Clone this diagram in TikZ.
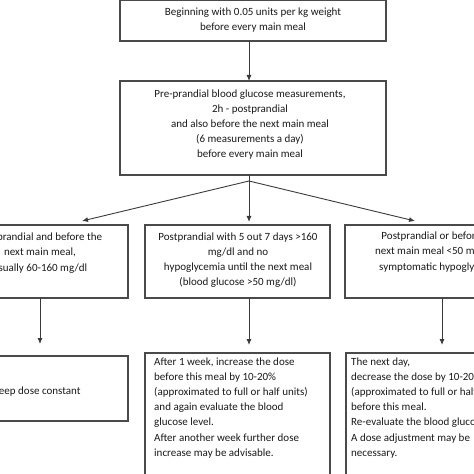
\documentclass[tikz,border=0pt]{standalone}
\usepackage{fontspec}
\setmainfont{Carlito}
\usetikzlibrary{arrows.meta}
\definecolor{boxgray}{HTML}{4A4A4A}
\definecolor{linegray}{HTML}{3A3A3A}
\definecolor{txtgray}{HTML}{1A1A1A}
\begin{document}
\begin{tikzpicture}[x=1bp,y=-1bp,
 box/.style={draw=boxgray, line width=1.1bp, fill=white, inner sep=0pt, outer sep=0pt},
 txt/.style={font=\fontsize{11.05}{15.2}\selectfont, text=txtgray, inner sep=0pt, align=center},
 ltxt/.style={txt, align=left},
 arr/.style={draw=linegray, line width=0.9bp, -{Latex[length=6bp,width=5bp]}},
 ln/.style={draw=linegray, line width=0.9bp},
]
\useasboundingbox (0,0) rectangle (474,474);
\clip (0,0) rectangle (474,474);
% boxes
\node[box, minimum width=266bp, minimum height=41bp, anchor=north west] (b1) at (120,0) {};
\node[box, minimum width=266bp, minimum height=94bp, anchor=north west] (b2) at (120,81) {};
\node[box, minimum width=188bp, minimum height=73bp, anchor=north east] (r2l) at (128,225) {};
\node[box, minimum width=185bp, minimum height=73bp, anchor=north west] (r2m) at (145,225) {};
\node[box, minimum width=188bp, minimum height=73bp, anchor=north west] (r2r) at (345,225) {};
\node[box, minimum width=188bp, minimum height=65bp, anchor=north east] (r3l) at (128,356) {};
\node[box, minimum width=185bp, minimum height=140bp, anchor=north west] (r3m) at (145,353) {};
\node[box, minimum width=188bp, minimum height=140bp, anchor=north west] (r3r) at (346,353) {};
% texts
\node[txt] (t1) at (253,20) {Beginning with 0.05 units per kg weight\\before every main meal};
\node[txt] (t2) at (250,124.5) {Pre-prandial blood glucose measurements,\\2h - postprandial\\and also before the next main meal\\(6 measurements a day)\\before every main meal};
\node[txt] (t2l) at (40,253) {Postprandial and before the\\next main meal,\\usually 60-160 mg/dl};
\node[txt] (t2m) at (238,260) {Postprandial with 5 out 7 days >160\\mg/dl and no\\hypoglycemia until the next meal\\(blood glucose >50 mg/dl)};
\node[txt] (t2r) at (440,252) {Postprandial or before the\\next main meal <50 mg/dl or\\symptomatic hypoglycemia};
\node[txt] (t3l) at (37,392) {Keep dose constant};
\node[ltxt, anchor=north west] (t3m) at (154,357.5) {After 1 week, increase the dose\\before this meal by 10-20\%\\(approximated to full or half units)\\and again evaluate the blood\\glucose level.\\After another week further dose\\increase may be advisable.};
\node[ltxt, anchor=north west] (t3r) at (351,357.5) {The next day,\\decrease the dose by 10-20\%\\(approximated to full or half units)\\before this meal.\\Re-evaluate the blood glucose level.\\A dose adjustment may be\\necessary.};
% connector points
\coordinate (split) at (249,181);
\coordinate (tipl) at (82,221);
\coordinate (tipm) at (249,222);
\coordinate (tipr) at (415,221);
\coordinate (x2l) at (40,0);
\coordinate (x2m) at (249,0);
\coordinate (x2r) at (442,0);
% connectors
\draw[arr] (b1.south -| split) -- (b2.north -| split);
\draw[ln] (b2.south -| split) -- (split);
\draw[arr] (split) -- (tipm);
\draw[arr] (split) -- (tipl);
\draw[arr] (split) -- (tipr);
\draw[arr] (r2l.south -| x2l) -- ([yshift=12bp]r3l.north -| x2l);
\draw[arr] (r2m.south -| x2m) -- ([yshift=8bp]r3m.north -| x2m);
\draw[arr] (r2r.south -| x2r) -- ([yshift=8bp]r3r.north -| x2r);
\end{tikzpicture}
\end{document}
